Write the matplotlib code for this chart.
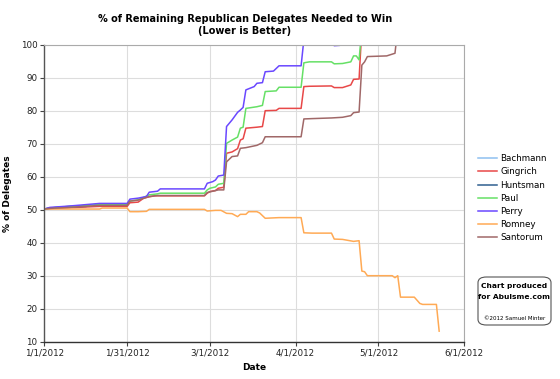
import datetime as dt
import matplotlib
matplotlib.use("Agg")
import matplotlib.pyplot as plt
from matplotlib.patches import FancyBboxPatch

# ---- data (day offset from 1/1/2012, % of remaining delegates needed) ----
bachmann_days = [0, 2, 3]
bachmann_vals = [50.2, 50.4, 50.4]

gingrich_days = [0, 2, 9, 20, 30, 31, 34, 36, 38, 40, 58, 59, 60, 62, 63, 65, 66, 68, 70, 71, 72, 73, 77, 79, 80, 84, 85, 93, 94, 96, 104, 105, 108, 111, 112, 114, 115]
gingrich_vals = [50.2, 50.3, 50.6, 51.0, 51.0, 52.1, 52.3, 53.5, 53.9, 54.2, 54.2, 55.0, 55.5, 55.8, 56.5, 56.8, 67.1, 67.5, 68.5, 71.1, 71.5, 74.7, 75.0, 75.2, 80.0, 80.1, 80.7, 80.7, 87.3, 87.4, 87.5, 87.0, 87.0, 87.8, 89.5, 89.6, 105.0]

huntsman_days = [0, 2, 9, 15]
huntsman_vals = [50.2, 50.5, 51.0, 51.0]

paul_days = [0, 2, 9, 20, 30, 31, 34, 38, 41, 42, 58, 59, 60, 62, 63, 65, 66, 68, 70, 71, 72, 73, 77, 79, 80, 84, 85, 93, 94, 96, 104, 105, 108, 111, 112, 113, 114, 115]
paul_vals = [50.2, 50.5, 50.9, 51.6, 51.6, 52.6, 53.0, 54.5, 54.8, 55.0, 55.0, 56.0, 56.5, 56.9, 57.7, 58.0, 70.1, 71.1, 72.0, 74.7, 75.0, 80.7, 81.2, 81.6, 85.8, 86.0, 87.1, 87.1, 94.5, 94.8, 94.8, 94.2, 94.3, 94.8, 96.6, 96.6, 95.4, 105.0]

perry_days = [0, 2, 9, 20, 30, 31, 34, 37, 38, 41, 42, 58, 59, 61, 62, 63, 65, 66, 68, 70, 71, 72, 73, 76, 77, 79, 80, 83, 84, 85, 93, 94, 104, 105, 107, 108]
perry_vals = [50.2, 50.7, 51.1, 51.9, 51.9, 53.2, 53.5, 54.0, 55.3, 55.6, 56.3, 56.3, 58.0, 58.5, 59.0, 60.2, 60.5, 75.2, 77.2, 79.5, 80.2, 81.0, 86.3, 87.3, 88.3, 88.5, 91.8, 92.0, 92.8, 93.6, 93.6, 101.5, 101.5, 99.7, 99.8, 105.0]

romney_days = [0, 20, 21, 30, 31, 34, 37, 38, 58, 59, 62, 64, 66, 68, 70, 71, 73, 74, 77, 78, 80, 85, 93, 94, 97, 104, 105, 108, 112, 114, 115, 116, 117, 126, 127, 128, 129, 134, 136, 137, 142, 143]
romney_vals = [50.2, 50.2, 50.5, 50.5, 49.4, 49.4, 49.5, 50.1, 50.1, 49.6, 49.8, 49.8, 48.9, 48.8, 47.9, 48.6, 48.6, 49.4, 49.4, 49.0, 47.4, 47.6, 47.6, 43.0, 42.9, 42.9, 41.1, 41.0, 40.4, 40.6, 31.4, 31.2, 30.0, 30.0, 29.4, 30.0, 23.5, 23.5, 21.6, 21.3, 21.3, 13.2]

santorum_days = [0, 2, 9, 20, 30, 31, 34, 38, 41, 58, 59, 60, 62, 63, 65, 66, 68, 70, 71, 73, 77, 79, 80, 93, 94, 97, 104, 108, 111, 112, 114, 115, 116, 117, 124, 127, 128]
santorum_vals = [50.2, 50.4, 50.7, 51.3, 51.3, 52.6, 52.9, 54.0, 54.3, 54.3, 55.2, 55.4, 55.8, 56.0, 56.0, 64.5, 66.1, 66.3, 68.6, 68.8, 69.5, 70.3, 72.1, 72.1, 77.5, 77.6, 77.8, 78.0, 78.5, 79.4, 79.6, 93.8, 94.8, 96.4, 96.6, 97.4, 105.0]

series_names = ["Bachmann", "Gingrich", "Huntsman", "Paul", "Perry", "Romney", "Santorum"]
series_days = [bachmann_days, gingrich_days, huntsman_days, paul_days, perry_days, romney_days, santorum_days]
series_vals = [bachmann_vals, gingrich_vals, huntsman_vals, paul_vals, perry_vals, romney_vals, santorum_vals]
series_colors = ["#8ec0f0", "#e84848", "#2f5f8f", "#66e066", "#6a48ff", "#ffaa55", "#a06868"]

x_ticks = ["1/1/2012", "1/31/2012", "3/1/2012", "4/1/2012", "5/1/2012", "6/1/2012"]
y_ticks = [10, 20, 30, 40, 50, 60, 70, 80, 90, 100]

start = dt.datetime(2012, 1, 1)

fig = plt.figure(figsize=(5.6, 3.79), dpi=100)
ax = fig.add_axes([0.0791, 0.0984, 0.7495, 0.7837])

for name, d, v, c in zip(series_names, series_days, series_vals, series_colors):
    dates = [start + dt.timedelta(days=k) for k in d]
    ax.plot(dates, v, color=c, lw=1.1, label=name, solid_joinstyle="round")

tick_dates = [dt.datetime.strptime(t, "%m/%d/%Y") for t in x_ticks]
ax.set_xlim(tick_dates[0], tick_dates[-1])
ax.set_xticks(tick_dates)
ax.set_xticklabels(x_ticks)
ax.set_ylim(10, 100)
ax.set_yticks(y_ticks)

ax.grid(True, color="#dddddd", lw=0.8)
ax.set_axisbelow(True)
for s in ["top", "right"]:
    ax.spines[s].set_color("#aaaaaa")
    ax.spines[s].set_linewidth(0.8)
ax.spines["left"].set_color("#555555")
ax.spines["bottom"].set_color("#333333")
ax.spines["left"].set_linewidth(1.0)
ax.spines["bottom"].set_linewidth(1.0)
ax.tick_params(axis="both", direction="out", length=3, width=0.8, color="#444444",
               labelsize=6.3, labelcolor="#222222", pad=2)

ax.set_xlabel("Date", fontsize=6.5, fontweight="bold", labelpad=4)
ax.set_ylabel("% of Delegates", fontsize=6.5, fontweight="bold")
ax.yaxis.set_label_coords(-0.077, 0.5)

fig.text(0.4375, 0.962, "% of Remaining Republican Delegates Needed to Win\n(Lower is Better)",
         ha="center", va="top", fontsize=7, fontweight="bold", linespacing=1.15)

leg = ax.legend(loc="upper left", bbox_to_anchor=(0.853, 0.593), bbox_transform=fig.transFigure,
                frameon=False, fontsize=6.3, labelspacing=0.48, handlelength=2.2,
                handletextpad=0.4, borderpad=0, borderaxespad=0)

box = FancyBboxPatch((478 / 560, 1 - 325 / 379), 73 / 560, 48 / 379,
                     boxstyle="round,pad=0,rounding_size=0.015",
                     transform=fig.transFigure, facecolor="white",
                     edgecolor="#555555", lw=0.8)
fig.patches.append(box)
fig.text(514.5 / 560, 1 - 286 / 379, "Chart produced", ha="center", va="center",
         fontsize=5.4, fontweight="bold")
fig.text(514.5 / 560, 1 - 297 / 379, "for Abulsme.com", ha="center", va="center",
         fontsize=5.4, fontweight="bold")
fig.text(514.5 / 560, 1 - 318 / 379, "\u00a92012 Samuel Minter", ha="center", va="center",
         fontsize=4.0)

fig.savefig("out.png", dpi=100)
